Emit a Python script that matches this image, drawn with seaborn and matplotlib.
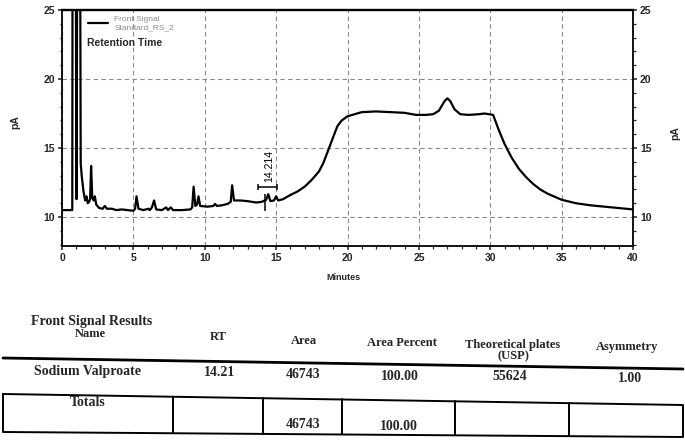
import matplotlib
matplotlib.use("Agg")
import matplotlib.pyplot as plt
from matplotlib.lines import Line2D
from matplotlib.ticker import MultipleLocator
import seaborn as sns

# chromatogram trace (minutes, pA)
minutes = [0.0, 0.72, 0.74, 0.97, 1.0, 1.03, 1.06, 1.27, 1.31, 1.38, 1.5, 1.62, 1.72, 1.8,
           1.9, 1.97, 2.04, 2.12, 2.22, 2.3, 2.4, 2.6, 2.85, 3.0, 3.15, 3.5, 3.8, 4.2, 4.6,
           5.0, 5.12, 5.22, 5.36, 5.7, 6.05, 6.15, 6.3, 6.45, 6.6, 7.0, 7.3, 7.42, 7.62,
           7.78, 8.4, 9.0, 9.12, 9.22, 9.34, 9.46, 9.56, 9.68, 10.2, 10.6, 10.72, 10.86,
           11.2, 11.6, 11.82, 11.92, 12.05, 12.5, 13.0, 13.6, 14.0, 14.3, 14.45, 14.6,
           14.85, 15.0, 15.15, 15.5, 16.0, 16.5, 17.0, 17.5, 18.0, 18.3, 18.6, 19.0, 19.3,
           19.6, 20.0, 20.5, 21.0, 22.0, 23.0, 24.0, 24.8, 25.5, 26.0, 26.4, 26.8, 27.0,
           27.2, 27.5, 27.9, 28.5, 29.2, 29.6, 30.2, 30.6, 31.0, 31.5, 32.0, 32.5, 33.0,
           33.5, 34.0, 35.0, 36.0, 37.0, 38.0, 39.0, 40.0]
signal = [10.5, 10.5, 30.0, 30.0, 11.3, 11.3, 30.0, 30.0, 13.9, 13.0, 11.9, 11.2, 11.5, 11.0,
          11.1, 11.3, 13.7, 11.4, 11.2, 11.5, 10.9, 10.65, 10.6, 10.8, 10.6, 10.6, 10.5, 10.55,
          10.5, 10.45, 10.6, 11.5, 10.6, 10.5, 10.6, 10.5, 10.7, 11.2, 10.55, 10.5, 10.7,
          10.5, 10.7, 10.5, 10.5, 10.55, 10.7, 12.2, 10.8, 10.9, 11.5, 10.8, 10.75, 10.8,
          10.95, 10.8, 10.85, 10.95, 11.1, 12.3, 11.2, 11.2, 11.15, 11.05, 11.1, 11.25,
          11.65, 11.15, 11.2, 11.5, 11.2, 11.3, 11.6, 11.85, 12.2, 12.7, 13.3, 13.9, 14.7,
          15.8, 16.6, 17.0, 17.3, 17.45, 17.6, 17.65, 17.6, 17.55, 17.4, 17.4, 17.45, 17.7,
          18.4, 18.6, 18.4, 17.8, 17.45, 17.4, 17.45, 17.5, 17.4, 16.3, 15.3, 14.3, 13.5,
          12.9, 12.4, 12.0, 11.7, 11.25, 11.0, 10.85, 10.75, 10.65, 10.55]

rt_label = "14.214"
rt_time = 14.2
rt_window = (13.75, 15.05)
rt_level = 12.2

x_ticks = [0, 5, 10, 15, 20, 25, 30, 35, 40]
y_ticks = [10, 15, 20, 25]

# results table
header = ["Name", "RT", "Area", "Area Percent", "Theoretical plates\n(USP)", "Asymmetry"]
row = ["Sodium Valproate", "14.21", "46743", "100.00", "55624", "1.00"]
totals = ["Totals", "", "46743", "100.00", "", ""]

W, H = 685, 442


def fx(x):
    return x / W


def fy(y):
    return 1 - y / H


sns.set_style("ticks")
plt.rcParams["font.family"] = ["Liberation Sans", "DejaVu Sans"]

fig = plt.figure(figsize=(6.85, 4.42), dpi=100)
ax = fig.add_axes([fx(62), fy(246), fx(633) - fx(62), fy(10) - fy(246)])

sns.lineplot(x=minutes, y=signal, ax=ax, color="black", lw=1.6,
             estimator=None, sort=False, label="Front Signal\nStandard_RS_2")

ax.set_xlim(0, 40)
ax.set_ylim(7.9, 25)
ax.set_xticks(x_ticks)
ax.set_yticks(y_ticks)
ax.xaxis.set_minor_locator(MultipleLocator(1))
ax.yaxis.set_minor_locator(MultipleLocator(1))
ax.tick_params(axis="both", which="major", direction="out", length=3, width=1.1,
               labelsize=7.5, pad=2)
ax.tick_params(axis="both", which="minor", direction="out", length=1.8, width=0.9)
ax.tick_params(axis="y", which="both", left=True, right=True, labelleft=True, labelright=True)
for lab in ax.get_xticklabels() + ax.get_yticklabels():
    lab.set_fontweight("bold")
for t in ax.yaxis.get_major_ticks():
    t.label2.set_fontweight("bold")
    t.label2.set_fontsize(7.5)

for s in ax.spines.values():
    s.set_visible(True)
    s.set_color("black")
    s.set_linewidth(1.3)
ax.spines["top"].set_linewidth(1.7)

ax.grid(True, which="major", color="#8a8a8a", ls=(0, (4, 3)), lw=0.8)
ax.set_xlabel("")
ax.set_ylabel("")

# peak marker
ax.errorbar((rt_window[0] + rt_window[1]) / 2, rt_level,
            xerr=(rt_window[1] - rt_window[0]) / 2, color="black", lw=1.1, capsize=2.5,
            capthick=1.1)
ax.vlines(rt_time, 10.45, 11.7, color="black", lw=1.1)
ax.text(14.55, rt_level + 0.35, rt_label, rotation=90, ha="center", va="bottom",
        fontsize=7.5, color="black")

leg = ax.legend(loc="upper left", frameon=False, fontsize=6, handlelength=2.4,
                borderaxespad=0.3, bbox_to_anchor=(0.035, 1.0), labelspacing=0)
for t in leg.get_texts():
    t.set_color("#8c8c8c")
ax.text(0.043, 0.86, "Retention Time", transform=ax.transAxes, fontsize=7.5,
        fontweight="bold", ha="left", va="center")

fig.text(fx(343), fy(277), "Minutes", fontsize=6.5, fontweight="bold", ha="center", va="center")
fig.text(fx(15), fy(122), "pA", fontsize=7.5, fontweight="bold", rotation=90, ha="center", va="center")
fig.text(fx(675), fy(133), "pA", fontsize=7.5, fontweight="bold", rotation=90, ha="center", va="center")

# table below the trace
serif = ["Liberation Serif", "DejaVu Serif"]
fig.text(fx(31), fy(321), "Front Signal Results", family=serif, fontsize=10, fontweight="bold",
         ha="left", va="center")
head_pos = [(90, 334), (218, 337), (304, 341), (402, 343), (513, 351), (627, 347)]
for txt, (x, y) in zip(header, head_pos):
    fig.text(fx(x), fy(y), txt, family=serif, fontsize=9, fontweight="bold", ha="center",
             va="center", linespacing=0.9)
fig.add_artist(Line2D([fx(3), fx(683)], [fy(358), fy(369)], color="black", lw=2))

row_pos = [(88, 372), (220, 373), (303, 374), (400, 376), (510, 377), (630, 379)]
for txt, (x, y) in zip(row, row_pos):
    fig.text(fx(x), fy(y), txt, family=serif, fontsize=10, fontweight="bold", ha="center",
             va="center")

# totals box
box_x = [3, 683, 683, 3, 3]
box_y = [394, 405, 437, 432, 394]
fig.add_artist(Line2D([fx(v) for v in box_x], [fy(v) for v in box_y], color="black", lw=1.4))
for x in [173, 263, 342, 455, 569]:
    top = 394 + (x - 3) / 680 * 11
    bot = 432 + (x - 3) / 680 * 5
    fig.add_artist(Line2D([fx(x), fx(x)], [fy(top), fy(bot)], color="black", lw=1.4))
tot_pos = [(88, 403), (218, 420), (303, 425), (399, 427), (513, 420), (627, 420)]
for txt, (x, y) in zip(totals, tot_pos):
    if txt:
        fig.text(fx(x), fy(y), txt, family=serif, fontsize=10, fontweight="bold", ha="center",
                 va="center")

fig.savefig("out.png", dpi=100)
